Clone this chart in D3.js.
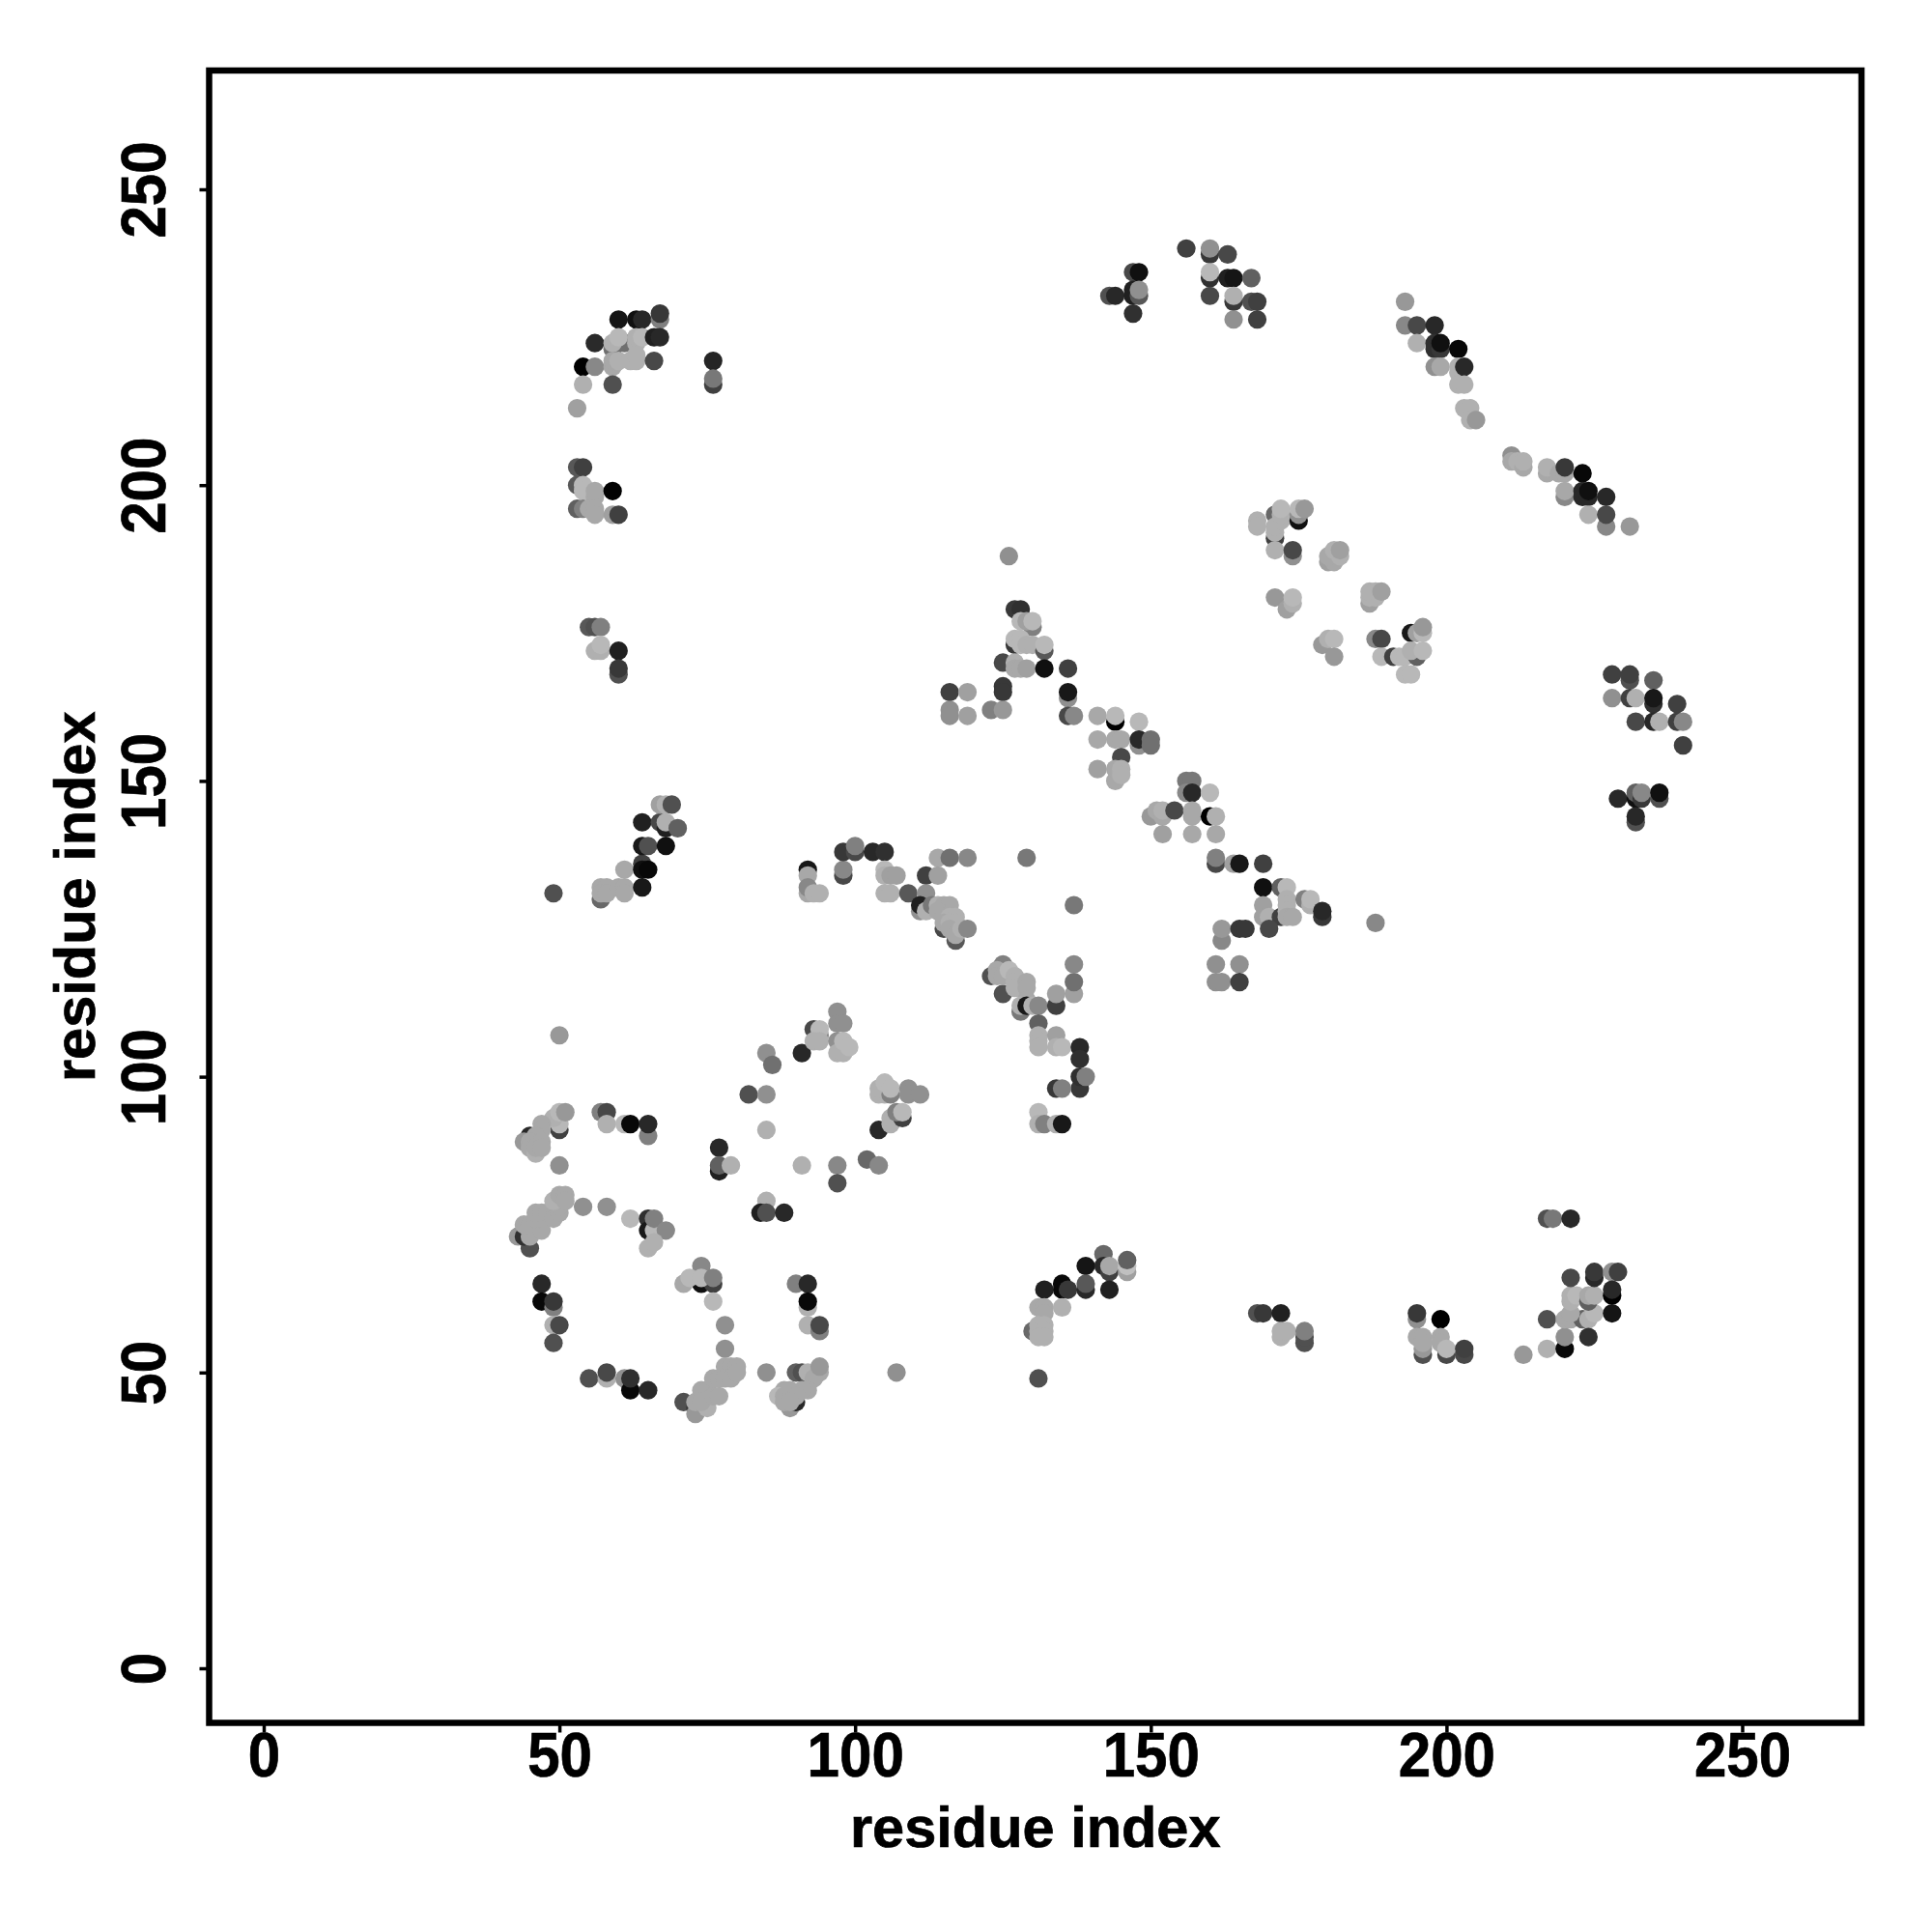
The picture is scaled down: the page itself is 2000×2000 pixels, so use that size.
<!DOCTYPE html>
<html><head><meta charset="utf-8">
<script src="https://cdn.jsdelivr.net/npm/d3@7"></script>
<style>html,body{margin:0;padding:0;background:#fff}svg{display:block}</style>
</head><body>
<svg id="chart" width="2000" height="2000"></svg>
<script>
// Each contact: [residue i, residue j, grey level 0-255]
const contactsUpperLeft = [[60,228,0x15],[63,228,0x10],[64,228,0x28],[67,228,0x80],[67,229,0x38],[56,224,0x2a],[59,223,0x70],[61,224,0x70],[59,224,0xb0],[60,225,0xb8],[63,224,0xb0],[63,225,0xb0],[64,225,0xb8],[66,225,0x20],[67,225,0x28],[54,220,0x00],[56,220,0x88],[59,220,0xa8],[59,221,0xa8],[60,221,0xb0],[62,221,0xb0],[63,221,0xb0],[63,222,0xb0],[66,221,0x48],[76,221,0x25],[76,217,0x40],[76,218,0x78],[54,217,0xb0],[59,217,0x50],[53,213,0xa0],
[53,203,0x58],[54,203,0x40],[53,200,0x58],[54,200,0xb8],[54,199,0xb8],[56,198,0xa8],[56,199,0xa8],[59,199,0x02],[53,196,0x60],[54,196,0x80],[55,196,0xa8],[56,196,0xa8],[56,195,0xa8],[59,195,0xa0],[60,195,0x40],
[55,176,0x58],[56,176,0x50],[57,176,0x80],[56,172,0xb0],[57,172,0xb0],[57,173,0xb8],[60,172,0x20],[60,168,0x50],[60,169,0x38]];
const contactsMiddleLeft = [[49,131,0x50],[57,130,0x68],[57,132,0xa8],[58,132,0xa8],[57,131,0xa8],[58,131,0xa8],[60,132,0xa8],[61,132,0xa8],[61,131,0xa8],[64,132,0x18],[61,135,0xa8],[64,136,0x40],[64,135,0x10],[65,135,0x08],[64,139,0x18],[65,139,0x50],[68,139,0x10],[64,143,0x20],[67,143,0x48],[68,142,0x20],[68,143,0xb0],[70,142,0x60],[67,146,0xa0],[68,146,0xb0],[69,146,0x50]];
const contactsLowerLeft = [[50,107,0x98],[50,85,0x90],[50,91,0x40],[50,92,0xb8],[49,93,0xb0],[50,94,0xb8],[51,94,0x98],[45,90,0x28],[44,89,0x98],[47,92,0xa8],[47,91,0xa8],[46,90,0xa8],[45,89,0xa8],[47,89,0xa8],[45,88,0xa8],[46,87,0xb0],[46,88,0xa8],[47,88,0xa8],
[57,94,0x80],[58,94,0x48],[58,92,0xb0],[61,92,0xb8],[62,92,0x08],[65,90,0x80],[65,92,0x28],
[54,78,0x90],[58,78,0x90],[62,76,0xb8],[65,76,0x30],[65,74,0x18],[66,74,0xb8],[66,76,0x80],[68,74,0x88],[65,71,0xb0],[66,72,0xb0],
[45,71,0x50],[43,73,0x98],[44,73,0x30],[45,73,0xa8],[44,75,0xa8],[45,75,0xa8],[47,74,0xa8],[46,76,0xa8],[47,76,0xa8],[46,77,0xa8],[47,77,0xa8],[48,77,0xa8],[49,76,0xa8],[50,77,0xa8],[50,78,0xa8],[49,79,0xb0],[50,80,0xa8],[51,80,0xa8],[51,79,0xa8],
[47,65,0x28],[47,62,0x08],[49,61,0x80],[49,62,0x38],[49,58,0xb0],[50,58,0x48],[49,55,0x50],[55,49,0x50],[58,49,0xb0],[58,50,0x48],[61,49,0x90],[62,47,0x08],[62,49,0x30],[65,47,0x28],
[74,68,0x88],[74,65,0x10],[76,65,0x40],[71,65,0xa8],[72,66,0xb8],[74,66,0xb8],[76,66,0x80],[76,62,0xb8],[78,58,0x90],[78,54,0x90],[85,50,0x90],[107,50,0x90],
[71,45,0x50],[73,44,0x38],[73,43,0x98],[73,45,0xa8],[74,47,0xa8],[75,47,0xa8],[75,44,0xb0],[74,45,0xa8],[76,46,0xa8],[77,46,0xa8],[76,49,0xa8],[77,49,0xa8],[78,51,0xa8],[79,51,0xa8],[80,51,0xa8],[78,49,0xa8],[79,49,0xa8],[80,50,0xa8],
[90,50,0x60],[91,50,0x50],[92,50,0xb0],[94,50,0xa8],[93,49,0xa8],[94,51,0x98],[92,47,0xa8],[91,47,0xa8],[89,44,0x98],[90,45,0x28],[88,47,0xa8],[87,46,0xb8],[88,46,0xa8],[89,47,0xa8],[90,46,0xa8],[88,45,0xa8],[89,45,0xa8],
[90,65,0x80],[92,65,0x28],[92,61,0xb0],[92,62,0x08],[92,58,0xb0],[94,57,0x80],[94,58,0x48],
[85,79,0xb0],[84,77,0x20],[85,77,0x50],[88,77,0x28],[77,88,0x28],[77,84,0x20],[77,85,0x60],[79,85,0xb0],[82,97,0x50],[85,97,0x90],[85,91,0xb0],[85,104,0x90],[86,102,0x70],[91,104,0x28],[91,85,0xb0],[97,85,0x88],[97,82,0x50],[102,86,0x68],[104,85,0x88],[104,91,0x28]];
const contactsCentreLeft = [[93,108,0x48],[94,107,0x88],[94,108,0xb8],[93,106,0xb0],[94,106,0xb0],[97,111,0x90],[97,109,0x90],[98,109,0x90],[97,106,0x90],[97,104,0xb0],[98,104,0xb0],[98,106,0xb8],[99,105,0xb8],
[104,97,0xb0],[105,97,0xb0],[104,98,0xb0],[106,97,0x80],[105,99,0xb8],[106,98,0xb8],[109,98,0x90],[109,97,0x90],[111,97,0x90],[106,92,0xb0],[106,93,0xb0],[108,93,0x40],[107,94,0x80],[108,94,0xb8],
[92,135,0x18],[92,134,0xa8],[92,131,0xa8],[92,132,0x88],[93,131,0xb0],[94,131,0xb0],[98,134,0x48],[98,135,0x88],[98,138,0x38],[100,138,0x48],[100,139,0x80],[103,138,0x28],[105,138,0x30],[105,135,0xb8],[105,134,0xb0],[106,134,0xa0],[107,134,0xa0],[105,131,0xb0],[106,131,0xb0],[109,131,0x58],
[114,137,0xa8],[116,137,0x70],[119,137,0x88],[129,137,0x78],[112,134,0x40],[114,134,0xa0],[112,131,0x90],[111,128,0x90],[111,129,0x20],[112,128,0xb0],[113,129,0x78],[114,129,0xb0],[115,129,0xa8],[116,129,0xa8],[114,128,0xa8],[115,125,0x48],[117,123,0x58],[115,127,0xa8],[116,127,0xb0],[117,127,0xb0],[115,126,0xa8],[116,126,0xb0],[117,126,0xb0],[116,125,0xa8],[117,124,0xa8],[118,125,0xb0],[119,125,0x88],[137,129,0x78]];
const contactsCentre = [[123,117,0x50],[125,114,0x50],[125,119,0x80],[124,118,0xa8],[124,117,0xa8],[125,117,0xa8],[126,118,0xb8],[127,117,0xb0],[127,116,0xb0],[127,115,0xb0],[129,116,0xa8],[129,115,0xa8],[129,113,0xa8],[128,111,0x78],[128,112,0xb0],[129,112,0x18],[130,112,0xb0],[131,112,0x88],[134,112,0x40],[134,114,0xa0],[137,114,0xa0],[137,116,0x70],[137,119,0x88],[131,109,0x60],
[131,107,0xb0],[131,106,0xb0],[131,105,0xb0],[134,107,0xa0],[134,105,0xb0],[135,105,0xb8],[138,105,0x28],[138,103,0x30],[138,98,0x38],[138,100,0x30],[139,100,0x80],[134,98,0x38],[135,98,0x80],[131,94,0xb8],[131,92,0xb0],[132,92,0x80],[134,92,0xb0],[135,92,0x18],
[126,188,0x90],[127,179,0x38],[128,179,0x30],[130,176,0x80],[128,177,0xb8],[129,177,0xa0],[130,177,0xb8],[127,173,0x38],[127,174,0xb8],[128,174,0xb8],[128,173,0xb8],[129,173,0xb0],[130,173,0xb0],[132,172,0x58],[132,173,0xb8],[125,170,0x48],[127,170,0xb0],[127,169,0xa8],[128,169,0xa8],[129,169,0xa0],[132,169,0x10],[136,169,0x40],
[116,165,0x40],[119,165,0xa0],[116,162,0x90],[116,161,0x90],[119,161,0xa0],[125,166,0x38],[125,165,0x38],[136,164,0x90],[136,165,0x18],[123,162,0x80],[125,162,0x98],[136,161,0x48],[137,161,0x88],
[141,161,0xa8],[144,160,0x00],[144,161,0xb8],[148,160,0xb8],[141,157,0xa8],[144,157,0xa8],[145,157,0xa8],[148,156,0x90],[148,157,0x28],[150,157,0x70],[150,156,0x70],[145,154,0x48],[141,152,0xa0],[144,150,0xa8],[144,152,0xa8],[145,152,0xb0],[145,151,0xb0],
[156,150,0x78],[157,150,0x78],[156,148,0x88],[157,148,0x28],[160,148,0xb8],[150,144,0x98],[151,145,0xa8],[152,144,0xa8],[152,145,0xb0],[154,145,0x48],[157,145,0xa8],[157,144,0xa8],[160,144,0x00],[161,144,0xb0],[152,141,0xa0],[157,141,0xa8],[161,141,0xa8],
[161,136,0x48],[161,137,0x80],[164,136,0xa0],[165,136,0x18],[169,136,0x40],[169,132,0x10],[172,132,0x60],[173,132,0xb8],[169,129,0xa0],[169,127,0xa0],[170,127,0xb0],[172,127,0x40],[173,130,0xb0],[173,129,0xb0],[173,128,0xb0],[173,127,0xa8],[174,127,0xa8],[176,130,0x80],[177,129,0xb0],[177,130,0xb8],[179,127,0x38],[179,128,0x28],[170,125,0x48],[188,126,0x88],
[162,123,0x88],[162,125,0x98],[165,125,0x38],[166,125,0x38],[161,119,0x90],[165,119,0x90],[161,116,0x90],[162,116,0x90],[165,116,0x40]];
const contactsTopRight = [[156,240,0x40],[160,239,0x38],[160,240,0x90],[163,239,0x48],[147,236,0x48],[148,236,0x10],[160,235,0x30],[160,236,0xb8],[163,235,0x20],[164,235,0x15],[167,235,0x60],[143,232,0x50],[144,232,0x28],[147,233,0x20],[147,232,0x20],[148,232,0x58],[148,233,0x90],[147,229,0x30],[160,232,0x48],[164,231,0x38],[164,232,0xb0],[167,231,0x50],[168,231,0x40],[164,228,0x90],[168,228,0x40],
[193,231,0x98],[193,227,0x88],[195,227,0x48],[198,227,0x28],[195,224,0xb0],[198,224,0x30],[198,223,0x30],[199,223,0x38],[199,224,0x10],[202,223,0x08],[198,220,0x90],[199,220,0xa8],[202,219,0xb0],[202,220,0xb0],[203,220,0x28],[202,217,0xb0],[203,217,0xb0],[203,213,0xb0],[204,213,0xb0],[204,211,0xb0],[205,211,0x98],
[211,205,0x90],[211,204,0xa8],[212,204,0xb0],[213,203,0xa8],[213,204,0xb0],[217,202,0xa8],[217,203,0xb0],[219,202,0xa8],[220,202,0xa8],[220,203,0x38],[223,202,0x08],[220,198,0x88],[220,199,0xa8],[223,199,0x28],[223,198,0x28],[224,198,0x28],[224,199,0x10],[227,198,0x28],[224,195,0xb0],[227,193,0x88],[227,195,0x48],[231,193,0x98]];
const contactsMiddleRight = [[168,194,0xb0],[168,193,0xb0],[171,195,0x68],[171,191,0x40],[171,189,0xb0],[171,192,0xb0],[171,193,0xb0],[172,194,0xb0],[172,195,0xb0],[172,196,0xb8],[174,188,0x90],[174,189,0x48],[175,194,0x10],[175,195,0x90],[175,196,0xb8],[176,196,0x98],
[180,187,0xa0],[181,187,0xa8],[180,188,0xa8],[181,189,0xb0],[182,188,0xb0],[182,189,0xa0],[171,181,0x98],[173,179,0xa0],[174,180,0xb0],[174,181,0xb8],[187,180,0xa0],[187,181,0xb0],[187,182,0xb0],[188,181,0xb0],[188,182,0xb0],[189,182,0xa0],
[179,173,0x98],[180,174,0xb0],[181,174,0xb8],[181,171,0x98],[188,174,0x88],[189,174,0x48],[194,175,0x18],[195,175,0xa0],[196,175,0xb8],[196,176,0x98],[189,171,0xb8],[191,171,0x40],[192,171,0xb8],[193,171,0xb8],[195,171,0x60],[194,172,0xb0],[196,172,0xb8],[193,168,0xb8],[194,168,0xb8],
[228,168,0x40],[231,167,0x50],[231,168,0x40],[235,167,0x60],[228,164,0x90],[231,164,0x40],[232,164,0xb0],[235,163,0x30],[235,164,0x18],[239,163,0x40],[232,160,0x48],[235,160,0x28],[236,160,0xb0],[239,160,0x40],[240,160,0x88],[240,156,0x40],
[229,147,0x28],[232,147,0x10],[232,148,0x60],[233,147,0x38],[233,148,0x88],[236,147,0x50],[236,148,0x10],[232,143,0x50],[232,144,0x28]];
const contactsLowerRight = [[142,70,0x68],[139,68,0x15],[142,68,0x28],[143,67,0x40],[143,68,0xa8],[146,67,0xa0],[146,68,0xc0],[146,69,0x60],[135,64,0x08],[135,65,0x08],[136,64,0x38],[139,64,0x28],[139,65,0x58],[143,64,0x20],[132,64,0x20],
[131,61,0xa8],[132,61,0xa8],[135,61,0xb0],[132,60,0xa8],[130,57,0x68],[131,57,0xb0],[131,58,0xb0],[132,58,0xb0],[132,57,0xb0],[131,56,0xb0],[132,56,0xb0],[131,49,0x50],
[168,60,0x50],[169,60,0x38],[172,60,0x20],[172,56,0xb0],[172,57,0xb0],[173,57,0xb0],[176,55,0x50],[176,56,0x50],[176,57,0x80],
[195,59,0x90],[195,60,0x38],[199,59,0x00],[196,53,0x50],[196,54,0x98],[195,56,0xa8],[196,56,0xa8],[196,55,0xa8],[199,56,0xa8],[199,55,0xa8],[200,53,0x48],[200,54,0xb8],[203,53,0x48],[203,54,0x40],
[213,53,0x98],[217,54,0xb0],[220,54,0x08],[220,56,0x90],[217,59,0x50],[220,59,0xa8],[221,59,0xa8],[223,59,0x60],[224,59,0xb0],[224,56,0x30],[225,60,0xb8],[221,60,0xa8],[221,62,0xb0],[221,63,0xb0],[222,63,0xb8],[224,62,0x60],[224,63,0xa8],[225,63,0xb0],[221,66,0x48],[225,66,0x28],[225,67,0x38],[228,67,0x90],[229,67,0x40],[228,63,0x00],[228,64,0x28],[228,60,0x15],
[217,76,0x50],[218,76,0x78],[221,76,0x28]];
const contactGroups = [contactsUpperLeft, contactsMiddleLeft, contactsLowerLeft, contactsCentreLeft, contactsCentre, contactsTopRight, contactsMiddleRight, contactsLowerRight];
const tickValues = [0, 50, 100, 150, 200, 250];
const axisLabel = "residue index";

const svg = d3.select("#chart");
const x = d3.scaleLinear().domain([0, 250]).range([273, 1803.5]);
const y = d3.scaleLinear().domain([0, 250]).range([1727, 196]);
const frame = {left: 216.5, right: 1927, top: 73, bottom: 1783.5};
const font = '"Liberation Sans", Arial, sans-serif';
const grey = d3.scaleLinear().domain([0, 255]).range(["#000", "#fff"]);

svg.append("rect").attr("width", 2000).attr("height", 2000).attr("fill", "#fff");

svg.append("g").selectAll("circle")
  .data(contactGroups.flat())
  .join("circle")
  .attr("cx", d => x(d[0]))
  .attr("cy", d => y(d[1]))
  .attr("r", 9.6)
  .attr("fill", d => grey(d[2]));

function styleTickText(sel) {
  sel.attr("font-family", font).attr("font-weight", "bold").attr("font-size", 64).attr("fill", "#000")
    .attr("stroke", "#000").attr("stroke-width", 0.7)
    .attr("lengthAdjust", "spacingAndGlyphs")
    .attr("textLength", d => String(d).length * 33.4);
}

const xAxis = d3.axisBottom(x).tickValues(tickValues).tickSize(0).tickPadding(0).tickFormat(d3.format("d"));
const gx = svg.append("g").attr("transform", `translate(0,${frame.bottom})`).call(xAxis);
gx.select(".domain").remove();
gx.selectAll(".tick line").attr("y1", 0).attr("y2", 10).attr("stroke", "#000").attr("stroke-width", 3.5);
gx.selectAll(".tick text").attr("y", 55).attr("dy", 0).call(styleTickText);

const yAxis = d3.axisLeft(y).tickValues(tickValues).tickSize(0).tickPadding(0).tickFormat(d3.format("d"));
const gy = svg.append("g").attr("transform", `translate(${frame.left},0)`).call(yAxis);
gy.select(".domain").remove();
gy.selectAll(".tick line").attr("x1", 0).attr("x2", -10).attr("stroke", "#000").attr("stroke-width", 3.5);
gy.selectAll(".tick text").attr("x", null).attr("dy", 0)
  .attr("text-anchor", "middle")
  .attr("transform", "translate(-46,0) rotate(-90)")
  .call(styleTickText);

svg.append("rect")
  .attr("x", frame.left).attr("y", frame.top)
  .attr("width", frame.right - frame.left).attr("height", frame.bottom - frame.top)
  .attr("fill", "none").attr("stroke", "#000").attr("stroke-width", 6.5);

svg.append("text").attr("x", (frame.left + frame.right) / 2).attr("y", 1912)
  .attr("text-anchor", "middle").attr("font-family", font).attr("font-weight", "bold").attr("font-size", 59.5)
  .attr("stroke", "#000").attr("stroke-width", 0.7)
  .text(axisLabel);
svg.append("text").attr("transform", `translate(98,${(frame.top + frame.bottom) / 2}) rotate(-90)`)
  .attr("text-anchor", "middle").attr("font-family", font).attr("font-weight", "bold").attr("font-size", 59.5)
  .attr("stroke", "#000").attr("stroke-width", 0.7)
  .text(axisLabel);
</script>
</body></html>
